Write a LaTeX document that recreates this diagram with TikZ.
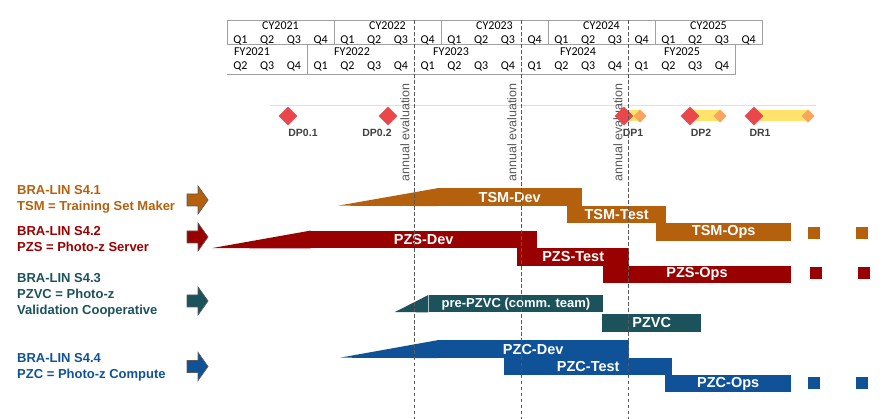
\documentclass[tikz,border=0pt]{standalone}
\usepackage{fontspec}
\setmainfont{Liberation Sans}
\newfontfamily\hdrfont{Carlito}
\usetikzlibrary{shapes.geometric,calc}
\definecolor{cTSM}{HTML}{B4600C}
\definecolor{cPZS}{HTML}{990000}
\definecolor{cPZVC}{HTML}{1B525B}
\definecolor{cPZC}{HTML}{0F5298}
\definecolor{hdrline}{HTML}{A0A0A0}
\definecolor{evalgray}{HTML}{595959}
\definecolor{msred}{HTML}{E9474C}
\definecolor{msorange}{HTML}{F8A55E}
\definecolor{msyellow}{HTML}{FFE36A}
\definecolor{arrowgray}{HTML}{5A5A5A}
\begin{document}
\begin{tikzpicture}[x=1pt,y=-1pt,
  hdr/.style={draw=hdrline,line width=0.8pt},
  hdrtxt/.style={font=\hdrfont\fontsize{12}{12}\selectfont,text=black,inner sep=0,anchor=base},
  evalline/.style={draw=black!65,line width=0.7pt,dash pattern=on 3.5pt off 2.5pt},
  evaltxt/.style={font=\fontsize{12.5}{13}\selectfont,text=evalgray,rotate=90,inner sep=0},
  bar/.style={minimum height=17.4pt,inner sep=0,anchor=north west,
    text=white,font=\bfseries\fontsize{14.5}{15}\selectfont},
  sq/.style={minimum size=12pt,inner sep=0},
  lbl/.style={font=\bfseries\fontsize{13}{16}\selectfont,align=left,anchor=west,inner sep=0},
  redms/.style={diamond,fill=msred,minimum size=19pt,inner sep=0},
  orms/.style={diamond,fill=msorange,minimum size=13pt,inner sep=0},
  mslbl/.style={font=\bfseries\fontsize{10.5}{11}\selectfont,text=black!75,inner sep=0,anchor=base},
  ybar/.style={draw=msyellow,line width=11pt}]
\useasboundingbox (0,0) rectangle (883,419);

% ---------- header tables ----------
\draw[hdr] (227,20.5) rectangle (762,44.5);
\foreach \x in {334,441,548,655} \draw[hdr] (\x,20.5) -- (\x,44.5);
\draw[hdr] (227,74) -- (735.25,74) -- (735.25,44.5);
\draw[hdr] (307.25,44.5) -- (307.25,74);

\foreach \yr/\xc in {2021/280.5,2022/387.5,2023/494.5,2024/601.5,2025/708.5}
  \node[hdrtxt] (cy\yr) at (\xc,30) {CY\yr};
\foreach \yr/\xc in {2021/252,2022/352,2023/451,2024/578,2025/682}
  \node[hdrtxt] (fy\yr) at (\xc,56) {FY\yr};
\foreach \i in {0,...,19}{
  \pgfmathtruncatemacro\q{mod(\i,4)+1}
  \node[hdrtxt] (cyq\i) at ({227+26.75*(\i+0.5)},43.3) {Q\q};
}
\foreach \i in {0,...,18}{
  \pgfmathtruncatemacro\q{mod(\i+1,4)+1}
  \node[hdrtxt] (fyq\i) at ({227+26.75*(\i+0.5)},70) {Q\q};
}

% ---------- milestone line ----------
\draw[black!12,line width=0.8pt] (270,105) -- (816,105);

% ---------- annual evaluation ----------
\node[evaltxt] (ev1) at (405,132.5) {annual evaluation};
\node[evaltxt] (ev2) at (512,132.5) {annual evaluation};
\node[evaltxt] (ev3) at (618,132.5) {annual evaluation};

% ---------- milestones ----------
\coordinate (dp1) at (624,116);
\coordinate (dp2) at (690,116);
\coordinate (dr1) at (754,116);
\node[orms] (dp1e) at (640,116) {};
\node[orms] (dp2e) at (720,116) {};
\node[orms] (dr1e) at (808,116) {};
\draw[ybar] (dp1) -- (dp1e.center);
\draw[ybar] (dp2) -- (dp2e.center);
\draw[ybar] (dr1) -- (dr1e.center);
\node[orms] at (dp1e) {};
\node[orms] at (dp2e) {};
\node[orms] at (dr1e) {};
\node[redms] (dp01m) at (288,116) {};
\node[redms] (dp02m) at (388,116) {};
\node[redms] (dp1m) at (dp1) {};
\node[redms] (dp2m) at (dp2) {};
\node[redms] (dr1m) at (dr1) {};
\node[mslbl] (dp01l) at (303,137) {DP0.1};
\node[mslbl] (dp02l) at (377,137) {DP0.2};
\node[mslbl] (dp1l) at (633,137) {DP1};
\node[mslbl] (dp2l) at (701,137) {DP2};
\node[mslbl] (dr1l) at (760,137) {DR1};

% ---------- left labels ----------
\node[lbl,text=cTSM] (l1) at (17,199.5) {BRA-LIN S4.1\\TSM = Training Set Maker};
\node[lbl,text=cPZS] (l2) at (17,239) {BRA-LIN S4.2\\PZS = Photo-z Server};
\node[lbl,text=cPZVC] (l3) at (17,295) {BRA-LIN S4.3\\PZVC = Photo-z\\Validation Cooperative};
\node[lbl,text=cPZC] (l4) at (17,367) {BRA-LIN S4.4\\PZC = Photo-z Compute};

\foreach \c/\yy in {cTSM/200,cPZS/237,cPZVC/301,cPZC/366.5}
  \filldraw[fill=\c,draw=arrowgray,line width=0.7pt]
    (187,\yy-6) -- (198,\yy-6) -- (198,\yy-14) -- (208,\yy) -- (198,\yy+14) -- (198,\yy+6) -- (187,\yy+6) -- cycle;

% ---------- bars ----------
\node[bar,fill=cTSM,minimum width=145pt] (tsmdev) at (437,188.3) {TSM-Dev};
\node[bar,fill=cTSM,minimum width=99pt] (tsmtest) at (567,205.7) {TSM-Test};
\node[bar,fill=cTSM,minimum width=135pt] (tsmops) at (656,223.1) {TSM-Ops};
\node[bar,fill=cPZS,minimum width=227pt] (pzsdev) at (310,230.7) {PZS-Dev};
\node[bar,fill=cPZS,minimum width=112pt] (pzstest) at (517,248.1) {PZS-Test};
\node[bar,fill=cPZS,minimum width=188.5pt] (pzsops) at (602.5,265.5) {PZS-Ops};
\node[bar,fill=cPZVC,minimum width=173.5pt,minimum height=17pt,font=\bfseries\fontsize{13}{14}\selectfont] (prepzvc) at (429,295) {pre-PZVC (comm. team)};
\node[bar,fill=cPZVC,minimum width=99pt] (pzvc) at (602,314) {PZVC};
\node[bar,fill=cPZC,minimum width=192pt] (pzcdev) at (437,340.3) {PZC-Dev};
\node[bar,fill=cPZC,minimum width=168pt] (pzctest) at (504,357.5) {PZC-Test};
\node[bar,fill=cPZC,minimum width=126pt] (pzcops) at (665,374.7) {PZC-Ops};

\coordinate (tsmr) at (338,205.7);
\coordinate (pzsr) at (212,248.1);
\coordinate (pzvcr) at (395,312);
\coordinate (pzcr) at (340,357.7);
\fill[cTSM] (tsmr) -- (tsmdev.north west) -- ([xshift=0.5pt]tsmdev.north west) -- ([xshift=0.5pt]tsmdev.south west) -- cycle;
\fill[cPZS] (pzsr) -- (pzsdev.north west) -- ([xshift=0.5pt]pzsdev.north west) -- ([xshift=0.5pt]pzsdev.south west) -- cycle;
\fill[cPZVC] (pzvcr) -- ([xshift=-0.6pt]prepzvc.north west) -- ([xshift=-0.6pt]prepzvc.south west) -- cycle;
\fill[cPZC] (pzcr) -- (pzcdev.north west) -- ([xshift=0.5pt]pzcdev.north west) -- ([xshift=0.5pt]pzcdev.south west) -- cycle;

% ---------- squares ----------
\node[sq,fill=cTSM] (tsq1) at (814,233) {};
\node[sq,fill=cTSM] (tsq2) at (862,233) {};
\node[sq,fill=cPZS] (psq1) at (816,273.5) {};
\node[sq,fill=cPZS] (psq2) at (864,273.5) {};
\node[sq,fill=cPZC] (csq1) at (814,383) {};
\node[sq,fill=cPZC] (csq2) at (862,383) {};

% ---------- annual evaluation lines ----------
\foreach \x in {414.25,521.25,628.25}
  \draw[evalline] (\x,20.5) -- (\x,419);
\end{tikzpicture}
\end{document}
